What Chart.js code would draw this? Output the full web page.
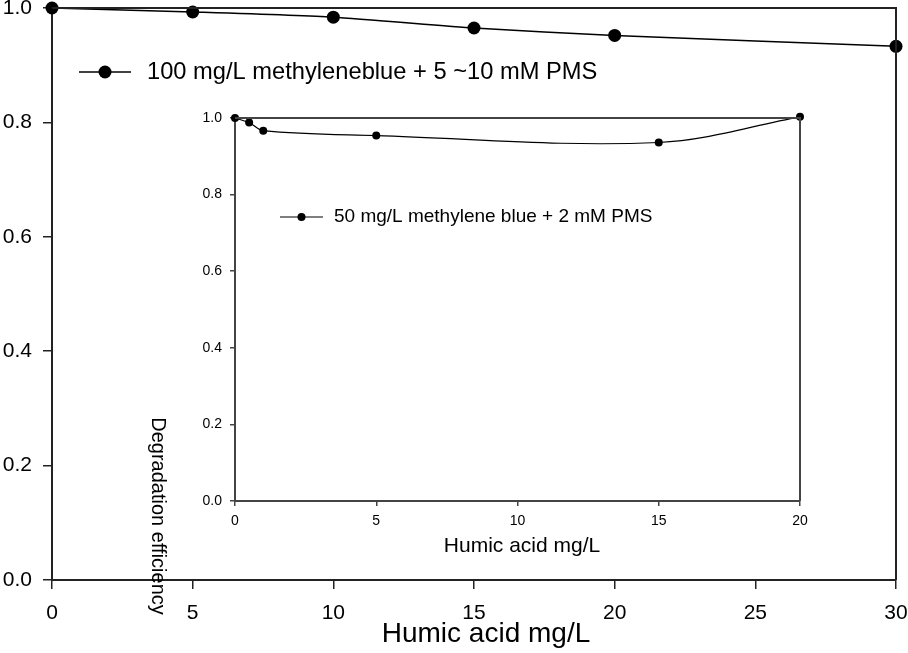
<!DOCTYPE html>
<html><head><meta charset="utf-8">
<script src="https://cdn.jsdelivr.net/npm/chart.js@4.4.0/dist/chart.umd.min.js"></script>
<style>
html,body{margin:0;padding:0;background:#fff;}
#wrap{position:relative;width:908px;height:653px;overflow:hidden;}
#main{position:absolute;left:0;top:0;width:908px;height:653px;}
#inset{position:absolute;left:140px;top:90px;width:690px;height:480px;}
</style></head><body>
<div id="wrap"><div id="main"><canvas id="c1"></canvas></div><div id="inset"><canvas id="c2"></canvas></div></div>
<script>
// ---- data ----
const mainHumic = [0, 5, 10, 15, 20, 30];
const mainEff = [1.0, 0.993, 0.984, 0.965, 0.952, 0.933];
const mainLabel = '100 mg/L methyleneblue + 5 ~10 mM PMS';
const insetHumic = [0, 0.5, 1, 5, 15, 20];
const insetEff = [1.0, 0.988, 0.967, 0.954, 0.936, 1.003];
const insetLabel = '50 mg/L methylene blue + 2 mM PMS';
const mainXTicks = [0, 5, 10, 15, 20, 25, 30];
const insetXTicks = [0, 5, 10, 15, 20];
const yTicks = [0, 0.2, 0.4, 0.6, 0.8, 1.0];
const xTitle = 'Humic acid mg/L';
const yTitle = 'Degradation efficiency';

const FONT = "'Liberation Sans', Arial, Helvetica, sans-serif";
Chart.defaults.font.family = FONT;
Chart.defaults.color = '#000';

const framePlugin = {
  id: 'frame',
  afterDatasetsDraw(chart, args, opts) {
    const {ctx, chartArea: a} = chart;
    ctx.save();
    ctx.strokeStyle = opts.color; ctx.lineWidth = opts.width;
    ctx.beginPath();
    ctx.moveTo(a.left, a.top); ctx.lineTo(a.right, a.top); ctx.lineTo(a.right, a.bottom);
    ctx.stroke();
    ctx.restore();
  }
};
const sampleLegend = {
  id: 'sampleLegend',
  afterDraw(chart, args, opts) {
    const {ctx} = chart;
    const ds = chart.data.datasets[0];
    ctx.save();
    ctx.strokeStyle = ds.borderColor; ctx.lineWidth = ds.borderWidth;
    ctx.beginPath(); ctx.moveTo(opts.x0, opts.y); ctx.lineTo(opts.x1, opts.y); ctx.stroke();
    ctx.fillStyle = ds.pointBackgroundColor;
    ctx.beginPath(); ctx.arc((opts.x0 + opts.x1) / 2, opts.y, ds.pointRadius, 0, Math.PI * 2); ctx.fill();
    ctx.font = opts.font + 'px ' + FONT;
    ctx.textBaseline = 'middle'; ctx.textAlign = 'left'; ctx.fillStyle = '#000';
    ctx.fillText(ds.label, opts.tx, opts.y);
    ctx.restore();
  }
};
const freeTitles = {
  id: 'freeTitles',
  afterDraw(chart, args, opts) {
    const {ctx} = chart;
    (opts.items || []).forEach(t => {
      ctx.save();
      ctx.translate(t.x, t.y); ctx.rotate(t.rot || 0);
      ctx.font = t.font + 'px ' + FONT;
      ctx.textAlign = 'center'; ctx.textBaseline = 'middle'; ctx.fillStyle = '#000';
      ctx.fillText(t.text, 0, 0);
      ctx.restore();
    });
  }
};

function fixScale(size, horizontal) {
  return function(scale) {
    if (horizontal) scale.height = size; else scale.width = size;
    scale.paddingTop = 0; scale.paddingBottom = 0; scale.paddingLeft = 0; scale.paddingRight = 0;
  };
}
function setTicks(list) {
  return function(scale) { scale.ticks = list.map(v => ({value: v})); };
}

// ---- main chart ----
new Chart(document.getElementById('c1'), {
  type: 'line',
  data: {
    datasets: [{
      label: mainLabel,
      data: mainHumic.map((x, i) => ({x, y: mainEff[i]})),
      borderColor: '#000', backgroundColor: '#000', pointBackgroundColor: '#000', pointBorderColor: '#000',
      borderWidth: 1.5, pointRadius: 6.5, pointBorderWidth: 0, tension: 0.2, clip: false, fill: false
    }]
  },
  options: {
    responsive: true, maintainAspectRatio: false, animation: false,
    layout: {autoPadding: false, padding: {left: 0, top: 8, right: 12, bottom: 0}},
    plugins: {
      legend: {display: false}, tooltip: {enabled: false},
      frame: {color: '#222', width: 2},
      sampleLegend: {x0: 79, x1: 131, y: 72, tx: 147, font: 23.7},
      freeTitles: {items: [
        {text: yTitle, x: 158, y: 516, font: 20, rot: Math.PI / 2},
        {text: xTitle, x: 486, y: 634, font: 28}
      ]}
    },
    scales: {
      x: {
        type: 'linear', min: 0, max: 30,
        afterBuildTicks: setTicks(mainXTicks), afterFit: fixScale(73, true),
        ticks: {font: {size: 21}, padding: 12, maxRotation: 0, autoSkip: false, callback: v => String(v)},
        grid: {drawOnChartArea: false, drawTicks: true, tickLength: 9, color: '#222', lineWidth: 1.5},
        border: {display: true, color: '#222', width: 2}
      },
      y: {
        type: 'linear', min: 0, max: 1,
        afterBuildTicks: setTicks(yTicks), afterFit: fixScale(52, false),
        ticks: {font: {size: 21}, padding: 11, autoSkip: false, callback: v => Number(v).toFixed(1)},
        grid: {drawOnChartArea: false, drawTicks: true, tickLength: 9, color: '#222', lineWidth: 1.5},
        border: {display: true, color: '#222', width: 2}
      }
    }
  },
  plugins: [framePlugin, sampleLegend, freeTitles]
});

// ---- inset chart ----
new Chart(document.getElementById('c2'), {
  type: 'line',
  data: {
    datasets: [{
      label: insetLabel,
      data: insetHumic.map((x, i) => ({x, y: insetEff[i]})),
      borderColor: '#000', backgroundColor: '#000', pointBackgroundColor: '#000', pointBorderColor: '#000',
      borderWidth: 1.2, pointRadius: 4, pointBorderWidth: 0, tension: 0.35, clip: false, fill: false
    }]
  },
  options: {
    responsive: true, maintainAspectRatio: false, animation: false,
    layout: {autoPadding: false, padding: {left: 0, top: 28, right: 30, bottom: 0}},
    plugins: {
      legend: {display: false}, tooltip: {enabled: false},
      frame: {color: '#444', width: 2},
      sampleLegend: {x0: 140, x1: 183, y: 127, tx: 194, font: 19},
      freeTitles: {items: [
        {text: xTitle, x: 382, y: 456, font: 21}
      ]}
    },
    scales: {
      x: {
        type: 'linear', min: 0, max: 20,
        afterBuildTicks: setTicks(insetXTicks), afterFit: fixScale(69, true),
        ticks: {font: {size: 14}, padding: 7, maxRotation: 0, autoSkip: false, callback: v => String(v)},
        grid: {drawOnChartArea: false, drawTicks: true, tickLength: 5, color: '#444', lineWidth: 1.5},
        border: {display: true, color: '#444', width: 2}
      },
      y: {
        type: 'linear', min: 0, max: 1,
        afterBuildTicks: setTicks(yTicks), afterFit: fixScale(95, false),
        ticks: {font: {size: 14}, padding: 8, autoSkip: false, callback: v => Number(v).toFixed(1)},
        grid: {drawOnChartArea: false, drawTicks: true, tickLength: 5, color: '#444', lineWidth: 1.5},
        border: {display: true, color: '#444', width: 2}
      }
    }
  },
  plugins: [framePlugin, sampleLegend, freeTitles]
});
</script>
</body></html>
